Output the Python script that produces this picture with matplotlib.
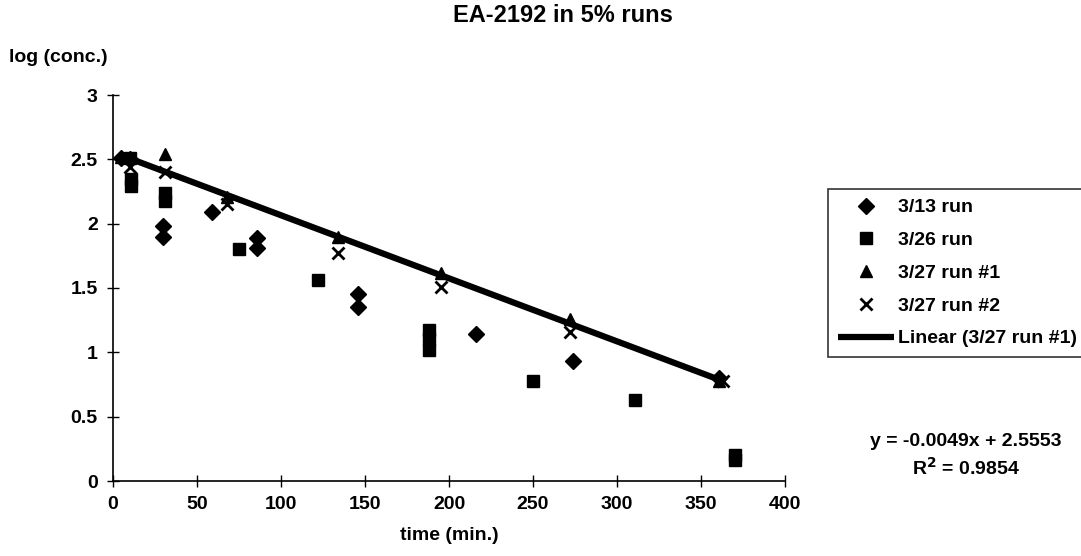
import numpy as np
import matplotlib
matplotlib.use("Agg")
import matplotlib.pyplot as plt

plt.rcParams["font.family"] = ["Liberation Sans", "DejaVu Sans"]
plt.rcParams["font.weight"] = "bold"

# 3/13 run (diamonds)
t_313 = [5, 10, 30, 30, 59, 86, 86, 146, 146, 216, 274, 361]
c_313 = [2.51, 2.50, 1.98, 1.90, 2.09, 1.89, 1.81, 1.45, 1.35, 1.14, 0.93, 0.80]

# 3/26 run (squares)
t_326 = [10, 11, 11, 31, 31, 75, 122, 188, 188, 188, 250, 311, 370, 370]
c_326 = [2.51, 2.35, 2.29, 2.24, 2.18, 1.80, 1.56, 1.17, 1.10, 1.02, 0.78, 0.63, 0.20, 0.16]

# 3/27 run #1 (triangles)
t_327a = [5, 31, 68, 134, 195, 272, 361]
c_327a = [2.52, 2.54, 2.21, 1.90, 1.62, 1.26, 0.78]

# 3/27 run #2 (crosses)
t_327b = [10, 31, 68, 134, 195, 272, 363]
c_327b = [2.44, 2.40, 2.15, 1.77, 1.51, 1.16, 0.78]

# trendline coefficients as printed on the chart
slope = -0.0049
intercept = 2.5553
r2 = 0.9854

x_ticks = [0, 50, 100, 150, 200, 250, 300, 350, 400]
y_ticks = [0, 0.5, 1, 1.5, 2, 2.5, 3]
y_labels = ["0", "0.5", "1", "1.5", "2", "2.5", "3"]

fig = plt.figure(figsize=(10.81, 5.56), dpi=100)
ax = fig.add_axes([113 / 1081, 1 - 481 / 556, 672 / 1081, 386 / 556])

ms = 9
ax.plot(t_313, c_313, "D", color="black", markersize=ms * 0.85, label="3/13 run")
ax.plot(t_326, c_326, "s", color="black", markersize=ms, label="3/26 run")
ax.plot(t_327a, c_327a, "^", color="black", markersize=ms, label="3/27 run #1")
ax.plot(t_327b, c_327b, "x", color="black", markersize=ms, markeredgewidth=2,
        label="3/27 run #2")

xl = np.array([min(t_327a), max(t_327a)])
ax.plot(xl, slope * xl + intercept, "-", color="black", linewidth=4.5,
        solid_capstyle="butt", label="Linear (3/27 run #1)")

ax.set_xlim(0, 400)
ax.set_ylim(0, 3)
ax.set_xticks(x_ticks)
ax.set_xticklabels([str(v) for v in x_ticks])
ax.set_yticks(y_ticks)
ax.set_yticklabels(y_labels)
ax.tick_params(direction="inout", length=8, width=1, labelsize=14, pad=7)
for side in ["top", "right"]:
    ax.spines[side].set_visible(False)
ax.spines["left"].set_linewidth(1.2)
ax.spines["bottom"].set_linewidth(1.2)
for lab in ax.get_xticklabels() + ax.get_yticklabels():
    lab.set_fontweight("bold")

fig.text(563 / 1081, 1 - 16 / 556, "EA-2192 in 5% runs", ha="center", va="center",
         fontsize=17, fontweight="bold")
fig.text(9 / 1081, 1 - 58 / 556, "log (conc.)", ha="left", va="center",
         fontsize=14, fontweight="bold")
fig.text(449 / 1081, 1 - 536 / 556, "time (min.)", ha="center", va="center",
         fontsize=14, fontweight="bold")

fig.text(966 / 1081, 1 - 442 / 556, f"y = {slope}x + {intercept}", ha="center",
         va="center", fontsize=14, fontweight="bold")
fig.text(966 / 1081, 1 - 468 / 556, f"R$^2$ = {r2}", ha="center", va="center",
         fontsize=14, fontweight="bold")

leg = fig.legend(loc="upper left", bbox_to_anchor=(828 / 1081, 1 - 189 / 556),
                 frameon=True, fancybox=False, edgecolor="black", fontsize=14,
                 handlelength=2.9, labelspacing=0.78, borderpad=0.5,
                 handletextpad=0.2, borderaxespad=0)
leg.get_frame().set_linewidth(1.2)
for txt in leg.get_texts():
    txt.set_fontweight("bold")

fig.savefig("out.png", dpi=100)
